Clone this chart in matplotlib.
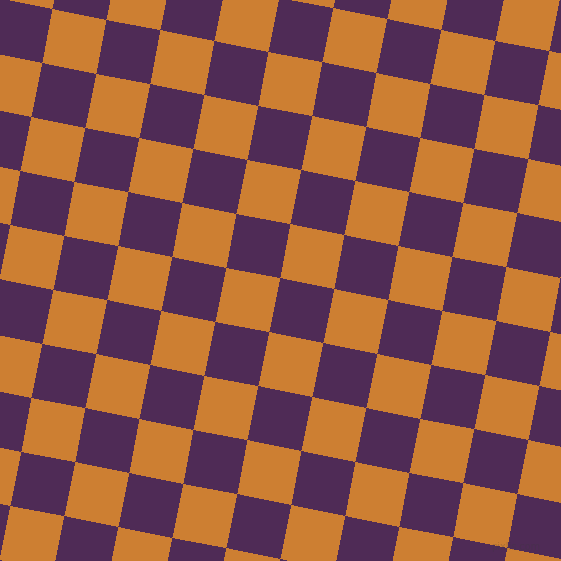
import numpy as np
import matplotlib
matplotlib.use("Agg")
import matplotlib.pyplot as plt
from matplotlib.colors import ListedColormap

# tile colours (even cell, odd cell)
tile_colors = ["#cd7f32", "#4f2b56"]
# grid geometry (pixels / degrees)
origin = (53.3, 10.0)
side = 55.05
angle = 11.2
cells_i = np.arange(-3, 14)
cells_j = np.arange(-3, 14)

W = H = 561
fig = plt.figure(figsize=(W / 100, H / 100), dpi=100)
ax = fig.add_axes([0, 0, 1, 1])
ax.set_xlim(0, W)
ax.set_ylim(H, 0)
ax.axis('off')

t = np.radians(angle)
I, J = np.meshgrid(np.append(cells_i, cells_i[-1] + 1),
                   np.append(cells_j, cells_j[-1] + 1))
X = origin[0] + side * (I * np.cos(t) - J * np.sin(t))
Y = origin[1] + side * (I * np.sin(t) + J * np.cos(t))
ci, cj = np.meshgrid(cells_i, cells_j)
C = (ci + cj) % 2

ax.pcolormesh(X, Y, C, cmap=ListedColormap(tile_colors), vmin=0, vmax=1,
              shading='flat', edgecolors='face', linewidth=0.3)

# faint watermark
ax.text(540, 547, "pixlis.com", fontsize=7, color='#3a3a3a', alpha=0.25,
        ha='right', va='center')

plt.savefig('out.png', dpi=100)
